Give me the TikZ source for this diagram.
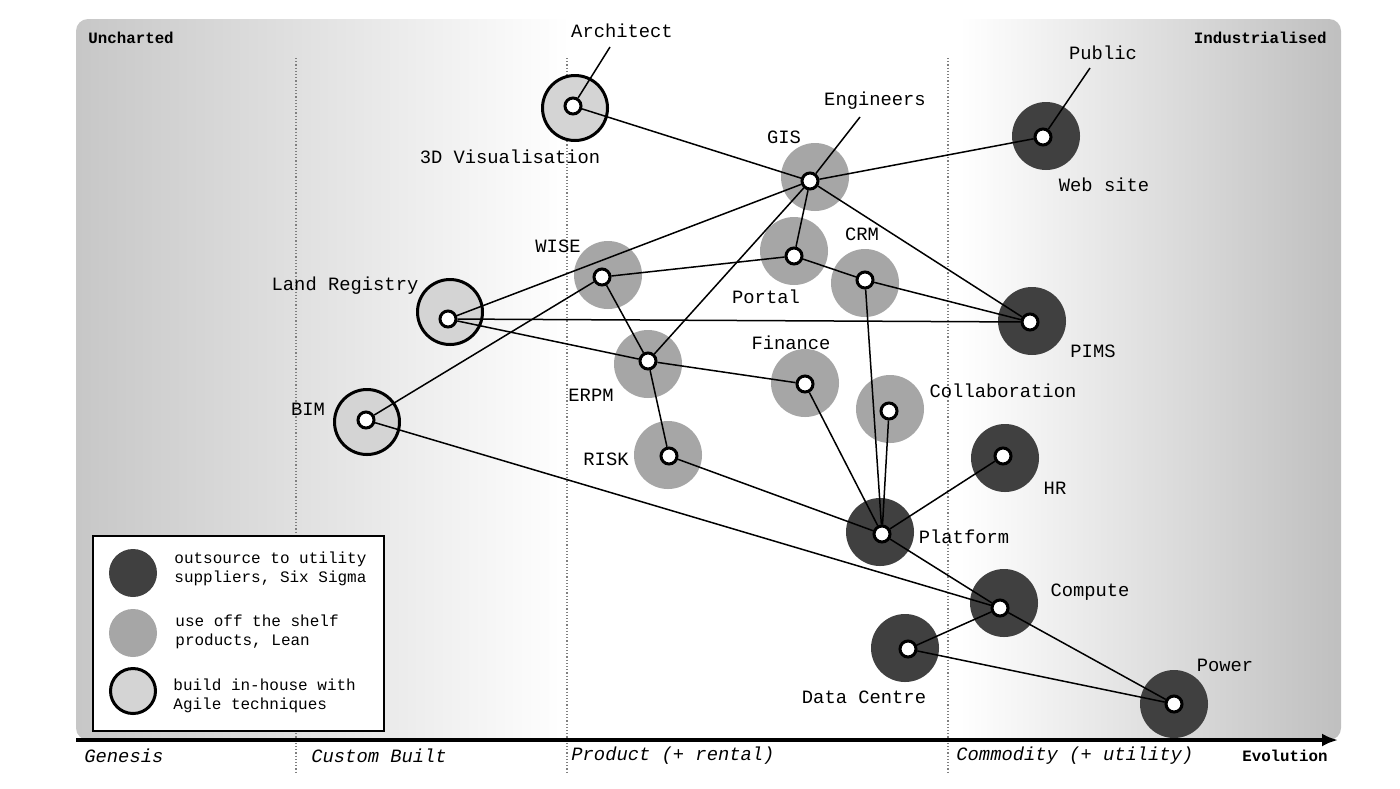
\documentclass[tikz,border=0pt]{standalone}
\usepackage{fontspec}
\setmonofont{Liberation Mono}
\usetikzlibrary{arrows,arrows.meta,shapes}

\begin{document}
\begin{tikzpicture}[x=0.5pt,y=-0.5pt,>=latex']
\tikzstyle{utility}=[circle, fill=black!75, minimum size=34pt, inner sep=0pt]
\tikzstyle{product}=[circle, fill=black!35, minimum size=34pt, inner sep=0pt]
\tikzstyle{custom}=[circle, draw, line width=1.5pt, fill=black!17, 
minimum size=32.5pt, inner sep=0pt]
\tikzstyle{dot}=[circle, draw, line width=1.5pt, fill=white, 
minimum size=8pt, inner sep=0pt]
\tikzstyle{lbl}=[font=\ttfamily\fontsize{9.4}{11}\selectfont, inner sep=0pt]
\tikzstyle{phase}=[lbl, font=\ttfamily\itshape\fontsize{9.4}{11}\selectfont, anchor=west]
\tikzstyle{corner}=[font=\ttfamily\bfseries\fontsize{7.9}{9}\selectfont, inner sep=0pt]
\tikzstyle{key}=[font=\ttfamily\fontsize{8}{9.5}\selectfont, align=left, 
anchor=west, inner sep=0pt]
\tikzstyle{link}=[draw, line width=0.75pt]
\tikzstyle{divider}=[draw, densely dotted, gray, line width=0.6pt]

\useasboundingbox (0,0) rectangle (1400,788);

\begin{scope}
\clip[rounded corners=6pt] (76,19) rectangle (1341,740);
\fill[white] (76,19) rectangle (1341,740);
\shade[left color=black!22, right color=white] (76,19) rectangle (570,740);
\shade[left color=white, right color=black!25] (960,19) rectangle (1341,740);
\end{scope}

\coordinate (d1 top) at (296,58);  \coordinate (d1 bot) at (296,772);
\coordinate (d2 top) at (567,58);  \coordinate (d2 bot) at (567,772);
\coordinate (d3 top) at (948,58);  \coordinate (d3 bot) at (948,772);
\path [divider] (d1 top) -- (d1 bot);
\path [divider] (d2 top) -- (d2 bot);
\path [divider] (d3 top) -- (d3 bot);

\node (uncharted) [corner, anchor=west] at (88,38) {Uncharted};
\node (industrialised) [corner, anchor=east] at (1327,38) {Industrialised};

\node (visbg) [custom] at (575,108) {};
\node (gisbg) [product] at (815,177) {};
\node (webbg) [utility] at (1046,136) {};
\node (wisebg) [product] at (608,275) {};
\node (portalbg) [product] at (794,251) {};
\node (crmbg) [product] at (865,283) {};
\node (landbg) [custom] at (450,312) {};
\node (pimsbg) [utility] at (1032,321) {};
\node (erpmbg) [product] at (648,364) {};
\node (financebg) [product] at (805,383) {};
\node (collabbg) [product] at (890,409) {};
\node (bimbg) [custom] at (367,422) {};
\node (riskbg) [product] at (668,455) {};
\node (hrbg) [utility] at (1005,458) {};
\node (platformbg) [utility] at (880,532) {};
\node (computebg) [utility] at (1004,603) {};
\node (dcbg) [utility] at (905,648) {};
\node (powerbg) [utility] at (1174,704) {};

\node (vis) [dot] at (573,106) {};
\node (gis) [dot] at (810,181) {};
\node (web) [dot] at (1043,137) {};
\node (wise) [dot] at (602,277) {};
\node (portal) [dot] at (794,256) {};
\node (crm) [dot] at (865,280) {};
\node (land) [dot] at (448,319) {};
\node (pims) [dot] at (1030,322) {};
\node (erpm) [dot] at (648,361) {};
\node (finance) [dot] at (805,384) {};
\node (collab) [dot] at (889,411) {};
\node (bim) [dot] at (366,420) {};
\node (risk) [dot] at (669,456) {};
\node (hr) [dot] at (1003,456) {};
\node (platform) [dot] at (882,534) {};
\node (compute) [dot] at (1000,608) {};
\node (dc) [dot] at (908,649) {};
\node (power) [dot] at (1174,704) {};

\node (architect) [lbl] at (622,31) {Architect};
\node (engineers) [lbl] at (875,101) {Engineers};
\node (public) [lbl] at (1103,53) {Public};
\coordinate (architect end) at (610,47);
\coordinate (engineers end) at (860,117);
\coordinate (public end) at (1090,68);
\path [link] (vis) -- (architect end);
\path [link] (gis) -- (engineers end);
\path [link] (web) -- (public end);

\node [lbl] (vislbl) at (510,157) {3D Visualisation};
\node [lbl] (gislbl) at (784,137) {GIS};
\node [lbl] (weblbl) at (1104,185) {Web site};
\node [lbl] (wiselbl) at (558,246) {WISE};
\node [lbl] (crmlbl) at (862,234) {CRM};
\node [lbl] (portallbl) at (766,297) {Portal};
\node [lbl] (landlbl) at (345,286) {Land Registry};
\node [lbl] (pimslbl) at (1093,351) {PIMS};
\node [lbl] (financelbl) at (791,343) {Finance};
\node [lbl] (erpmlbl) at (591,395) {ERPM};
\node [lbl] (collablbl) at (1003,391) {Collaboration};
\node [lbl] (bimlbl) at (308,409) {BIM};
\node [lbl] (risklbl) at (606,459) {RISK};
\node [lbl] (hrlbl) at (1055,488) {HR};
\node [lbl] (platformlbl) at (964,537) {Platform};
\node [lbl] (computelbl) at (1090,592) {Compute};
\node [lbl] (dclbl) at (864,697) {Data Centre};
\node [lbl] (powerlbl) at (1225,665) {Power};

\path [link] (vis) -- (gis);
\path [link] (gis) -- (web);
\path [link] (gis) -- (land);
\path [link] (gis) -- (portal);
\path [link] (gis) -- (erpm);
\path [link] (gis) -- (pims);
\path [link] (wise) -- (portal);
\path [link] (wise) -- (erpm);
\path [link] (wise) -- (bim);
\path [link] (portal) -- (crm);
\path [link] (crm) -- (pims);
\path [link] (crm) -- (platform);
\path [link] (land) -- (pims);
\path [link] (land) -- (erpm);
\path [link] (erpm) -- (finance);
\path [link] (erpm) -- (risk);
\path [link] (finance) -- (platform);
\path [link] (collab) -- (platform);
\path [link] (risk) -- (platform);
\path [link] (hr) -- (platform);
\path [link] (bim) -- (compute);
\path [link] (platform) -- (compute);
\path [link] (compute) -- (dc);
\path [link] (compute) -- (power);
\path [link] (dc) -- (power);

\node (legend) [draw, fill=white, line width=0.8pt, minimum width=145.5pt, 
minimum height=97.5pt, inner sep=0pt] at (238.5,633.5) {};
\node (keyutility) [utility, minimum size=24pt] at (133,573) {};
\node (keyproduct) [product, minimum size=24pt] at (133,633) {};
\node (keycustom) [custom, minimum size=22.5pt] at (133,691) {};
\node (keyutilitytxt) [key] at (174,569) {outsource to utility\\suppliers, Six Sigma};
\node (keyproducttxt) [key] at (175,632) {use off the shelf\\products, Lean};
\node (keycustomtxt) [key] at (173,696) {build in-house with\\Agile techniques};

\coordinate (axis start) at (76,740);
\coordinate (axis end) at (1338,740);
\path [draw, -{Latex[length=8pt,width=6.5pt]}, line width=2pt] (axis start) -- (axis end);
\node (genesis) [phase] at (84,756) {Genesis};
\node (custombuilt) [phase] at (311,756) {Custom Built};
\node (product) [phase] at (571,756) {Product (+ rental)};
\node (commodity) [phase] at (956,756) {Commodity (+ utility)};
\node (evolution) [corner, anchor=east] at (1328,756) {Evolution};
\end{tikzpicture}
\end{document}
